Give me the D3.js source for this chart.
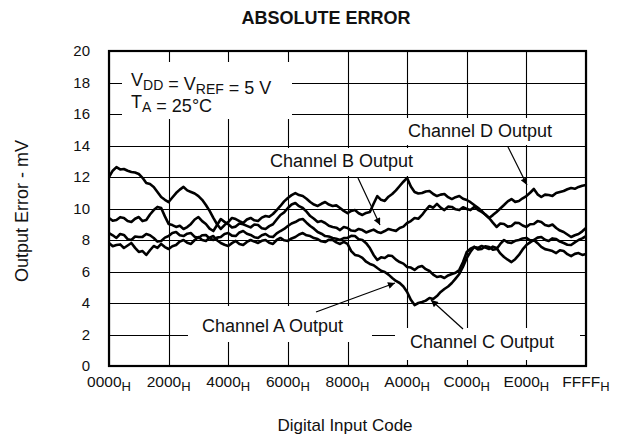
<!DOCTYPE html>
<html>
<head>
<meta charset="utf-8">
<script src="https://cdn.jsdelivr.net/npm/d3@7"></script>
<style>
  html, body { margin: 0; padding: 0; background: #fff; }
  svg { display: block; font-family: "Liberation Sans", Arial, Helvetica, sans-serif; }
</style>
</head>
<body>
<svg id="chart" width="623" height="441"></svg>
<script>
// Sample codes: every 0x200 across the full 16-bit input range
const codes = d3.range(129).map(k => Math.min(k * 512, 65535));

// Output error (mV) per channel at each sample code
const channelA = [
  8.44, 8.30, 8.13, 8.38, 8.32, 8.05, 8.00, 8.22, 8.19, 8.20, 8.38, 8.30, 8.13, 7.90, 7.94, 8.15,
  8.25, 8.45, 8.51, 8.30, 8.25, 8.40, 8.44, 8.20, 8.13, 8.30, 8.32, 8.10, 8.00, 8.15, 8.19, 8.38,
  8.44, 8.28, 8.25, 8.48, 8.57, 8.40, 8.32, 8.18, 8.13, 8.30, 8.38, 8.22, 8.19, 8.42, 8.57, 8.70,
  8.89, 9.05, 9.14, 9.28, 9.33, 9.10, 8.89, 8.72, 8.51, 8.40, 8.25, 8.22, 8.13, 8.08, 8.00, 8.12,
  8.13, 8.26, 8.25, 8.05, 8.00, 7.80, 7.49, 7.05, 6.73, 6.90, 6.86, 7.02, 6.98, 6.75, 6.60, 6.50,
  6.29, 6.25, 6.10, 6.28, 6.35, 6.15, 6.03, 5.80, 5.65, 5.70, 5.59, 5.75, 5.84, 5.92, 6.10, 6.60,
  7.24, 7.45, 7.56, 7.40, 7.43, 7.60, 7.56, 7.38, 7.43, 7.75, 8.00, 7.85, 7.81, 7.95, 8.00, 8.10,
  8.13, 7.98, 8.00, 8.15, 8.19, 8.02, 7.94, 8.10, 8.06, 7.90, 7.81, 7.70, 7.68, 7.85, 8.00, 8.10,
  8.25
];
const channelB = [
  9.40, 9.22, 9.27, 9.45, 9.40, 9.20, 9.14, 9.35, 9.46, 9.20, 9.27, 9.62, 9.90, 10.10, 10.03, 9.50,
  9.02, 8.95, 8.83, 8.90, 8.70, 8.82, 9.02, 9.30, 9.46, 9.20, 9.02, 8.72, 8.57, 8.95, 9.33, 9.15,
  9.00, 8.80, 8.85, 9.05, 9.00, 8.90, 8.80, 8.98, 8.95, 8.75, 8.70, 8.88, 9.00, 9.30, 9.59, 9.75,
  10.03, 10.25, 10.35, 10.15, 10.03, 9.80, 9.52, 9.35, 9.14, 9.20, 9.08, 8.90, 8.83, 8.78, 8.63, 8.82,
  8.76, 8.60, 8.57, 8.70, 8.63, 8.48, 8.57, 8.66, 8.51, 8.45, 8.57, 8.70, 8.63, 8.58, 8.76, 8.85,
  9.08, 9.20, 9.40, 9.35, 9.59, 9.90, 10.16, 10.05, 10.29, 10.05, 9.90, 10.12, 10.10, 9.95, 9.90, 10.08,
  9.97, 9.90, 10.10, 9.92, 9.78, 9.62, 9.40, 9.10, 8.83, 9.05, 9.02, 8.85, 8.89, 9.10, 9.08, 8.92,
  8.83, 9.00, 9.02, 9.20, 9.14, 8.95, 8.89, 8.98, 8.76, 8.60, 8.51, 8.35, 8.19, 8.30, 8.38, 8.55,
  8.76
];
const channelC = [
  7.81, 7.60, 7.68, 7.72, 7.49, 7.65, 7.81, 7.50, 7.24, 7.30, 7.05, 7.35, 7.62, 7.50, 7.75, 7.55,
  7.43, 7.60, 7.68, 7.90, 8.00, 7.82, 7.75, 8.00, 8.19, 8.00, 7.94, 8.15, 8.25, 7.98, 7.81, 7.70,
  7.62, 7.80, 7.94, 7.75, 7.68, 7.88, 8.00, 7.90, 7.81, 7.95, 8.00, 7.82, 7.75, 8.00, 8.13, 7.98,
  7.94, 8.10, 8.19, 8.35, 8.44, 8.30, 8.25, 8.12, 8.06, 7.92, 7.87, 8.02, 8.00, 7.85, 7.75, 7.88,
  7.75, 7.30, 7.05, 7.00, 6.86, 6.62, 6.48, 6.40, 6.22, 6.05, 5.97, 5.80, 5.59, 5.40, 5.27, 5.05,
  4.70, 4.20, 3.87, 4.00, 4.06, 4.15, 4.32, 4.25, 4.44, 4.70, 4.89, 5.05, 5.27, 5.55, 5.84, 6.30,
  6.86, 7.25, 7.56, 7.50, 7.62, 7.52, 7.43, 7.58, 7.49, 7.15, 6.92, 6.75, 6.60, 6.78, 7.05, 7.40,
  7.68, 7.85, 8.00, 7.80, 7.56, 7.42, 7.37, 7.30, 7.17, 7.35, 7.30, 7.10, 6.98, 7.12, 7.17, 7.05,
  7.11
];
const channelD = [
  12.00, 12.40, 12.63, 12.48, 12.51, 12.40, 12.32, 12.28, 12.19, 11.95, 11.62, 11.55, 11.37, 11.05, 10.73, 10.55,
  10.41, 10.70, 10.98, 11.20, 11.37, 11.15, 11.05, 10.95, 10.79, 10.55, 10.22, 9.85, 9.40, 9.00, 8.70, 8.95,
  9.14, 9.40, 9.33, 9.20, 9.08, 9.30, 9.40, 9.25, 9.21, 9.42, 9.52, 9.48, 9.65, 9.90, 10.16, 10.45,
  10.67, 10.85, 10.98, 10.85, 10.79, 10.62, 10.41, 10.25, 10.16, 10.30, 10.41, 10.25, 10.16, 10.20, 10.03, 9.85,
  9.71, 9.85, 9.90, 9.70, 9.59, 9.72, 9.78, 10.30, 10.79, 10.55, 10.48, 10.75, 10.92, 11.15, 11.43, 11.70,
  11.94, 11.40, 11.05, 10.95, 10.98, 11.08, 11.11, 10.92, 10.79, 10.88, 10.92, 10.72, 10.60, 10.72, 10.79, 10.62,
  10.54, 10.40, 10.22, 10.05, 9.84, 9.60, 9.40, 9.58, 9.78, 10.00, 10.22, 10.45, 10.60, 10.42, 10.48, 10.65,
  10.79, 11.00, 11.24, 10.90, 10.73, 10.88, 10.86, 10.80, 10.98, 11.05, 11.11, 11.22, 11.30, 11.25, 11.37, 11.45,
  11.49
];

// Axis ticks
const xTickCodes  = [0x0000, 0x2000, 0x4000, 0x6000, 0x8000, 0xA000, 0xC000, 0xE000, 0xFFFF];
const xTickLabels = ["0000", "2000", "4000", "6000", "8000", "A000", "C000", "E000", "FFFF"];
const yTicks = [0, 2, 4, 6, 8, 10, 12, 14, 16, 18, 20];

const plot = { left: 109, right: 586, top: 51, bottom: 366 };

const svg = d3.select("#chart");
const x = d3.scaleLinear().domain([0, 65535]).range([plot.left, plot.right]);
const y = d3.scaleLinear().domain([0, 20]).range([plot.bottom, plot.top]);

// Grid (tick positions snapped to whole pixels so every line stays sharp)
const gx = svg.append("g")
  .attr("transform", `translate(0,${plot.bottom})`)
  .call(d3.axisBottom(x).tickValues(xTickCodes).tickSize(-(plot.bottom - plot.top)).tickFormat(""));
gx.selectAll(".tick").attr("transform", d => `translate(${Math.round(x(d)) + 0.5},0)`);
const gy = svg.append("g")
  .attr("transform", `translate(${plot.left},0)`)
  .call(d3.axisLeft(y).tickValues(yTicks).tickSize(-(plot.right - plot.left)).tickPadding(19));
gy.selectAll(".tick").attr("transform", d => `translate(0,${Math.round(y(d)) + 0.5})`);
[gx, gy].forEach(g => {
  g.select(".domain").remove();
  g.selectAll(".tick line").attr("stroke", "#000").attr("stroke-width", 1.1);
});
gy.selectAll(".tick text")
  .attr("font-size", 15).attr("fill", "#111")
  .attr("font-family", "Liberation Sans, Arial, sans-serif");

// White backing boxes for the in-plot annotations
const boxes = [
  [122, 62, 170, 57],   // supply / temperature note
  [262, 148, 168, 28],  // Channel B
  [400, 118, 162, 27],  // Channel D
  [188, 306, 184, 36],  // Channel A
  [395, 328, 185, 32]   // Channel C
];
svg.append("g").selectAll("rect").data(boxes).join("rect")
  .attr("x", d => d[0]).attr("y", d => d[1]).attr("width", d => d[2]).attr("height", d => d[3])
  .attr("fill", "#fff");

// Curves
const line = d3.line().x((d, i) => x(codes[i])).y(d => y(d));
svg.append("g").selectAll("path")
  .data([channelA, channelB, channelC, channelD]).join("path")
  .attr("d", line)
  .attr("fill", "none").attr("stroke", "#000").attr("stroke-width", 2.6)
  .attr("stroke-linejoin", "round");

// Frame
svg.append("rect")
  .attr("x", plot.left).attr("y", plot.top)
  .attr("width", plot.right - plot.left).attr("height", plot.bottom - plot.top)
  .attr("fill", "none").attr("stroke", "#000").attr("stroke-width", 2.2);

// Arrow marker
svg.append("defs").append("marker")
  .attr("id", "head").attr("viewBox", "0 0 10 10")
  .attr("refX", 10).attr("refY", 5)
  .attr("markerWidth", 11).attr("markerHeight", 7)
  .attr("markerUnits", "userSpaceOnUse")
  .attr("orient", "auto")
  .append("path").attr("d", "M0,0 L10,5 L0,10 Z").attr("fill", "#000");

const arrows = [
  [358, 178, 380, 225],  // Channel B
  [508, 147, 527, 185],  // Channel D
  [316, 312, 395, 283],  // Channel A
  [463, 329, 431, 300]   // Channel C
];
svg.append("g").selectAll("line").data(arrows).join("line")
  .attr("x1", d => d[0]).attr("y1", d => d[1]).attr("x2", d => d[2]).attr("y2", d => d[3])
  .attr("stroke", "#000").attr("stroke-width", 1.2)
  .attr("marker-end", "url(#head)");

// Annotation text
const ann = svg.append("g").attr("font-size", 18).attr("fill", "#111");
const labels = [
  ["Channel B Output", 270, 167],
  ["Channel D Output", 408, 137],
  ["Channel A Output", 202, 332],
  ["Channel C Output", 410, 348]
];
ann.selectAll("text.lbl").data(labels).join("text").attr("class", "lbl")
  .attr("x", d => d[1]).attr("y", d => d[2]).text(d => d[0]);

function subText(sel, parts) {
  parts.forEach(([txt, sub]) => {
    if (sub) {
      sel.append("tspan").attr("font-size", 14).attr("dy", 4).text(txt);
      sel.append("tspan").attr("dy", -4).text("");
    } else {
      sel.append("tspan").text(txt);
    }
  });
}
subText(ann.append("text").attr("x", 131).attr("y", 86),
  [["V"], ["DD", true], [" = V"], ["REF", true], [" = 5 V"]]);
subText(ann.append("text").attr("x", 131).attr("y", 108),
  [["T"], ["A", true], [" = 25°C"]]);

// X tick labels with hexadecimal subscript
const xl = svg.append("g").attr("font-size", 15.5).attr("fill", "#111");
xTickCodes.forEach((c, i) => {
  const t = xl.append("text").attr("x", x(c)).attr("y", 387).attr("text-anchor", "middle");
  t.append("tspan").text(xTickLabels[i]);
  t.append("tspan").attr("font-size", 13).attr("dy", 4).text("H");
});

// Titles
svg.append("text").attr("x", 326).attr("y", 24).attr("text-anchor", "middle")
  .attr("font-size", 18).attr("font-weight", "bold").attr("fill", "#111")
  .text("ABSOLUTE ERROR");
svg.append("text").attr("x", 345).attr("y", 431).attr("text-anchor", "middle")
  .attr("font-size", 17).attr("fill", "#111")
  .text("Digital Input Code");
svg.append("text")
  .attr("transform", "translate(28,211) rotate(-90)")
  .attr("text-anchor", "middle").attr("font-size", 18).attr("fill", "#111")
  .text("Output Error - mV");
</script>
</body>
</html>
